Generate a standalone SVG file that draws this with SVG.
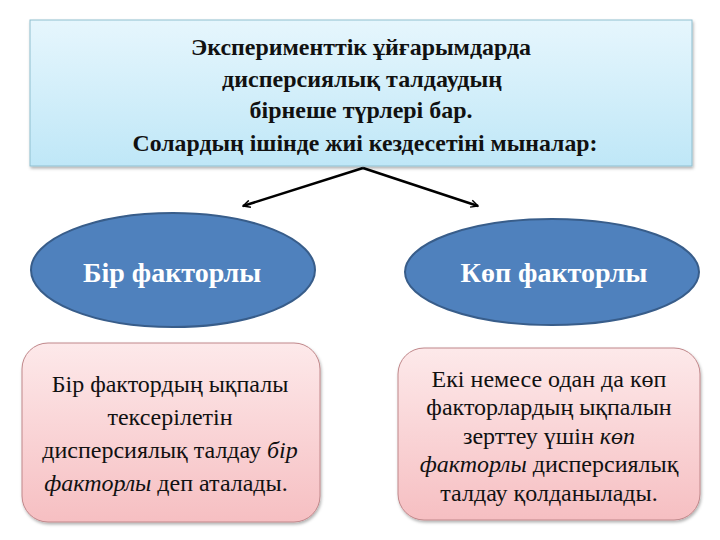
<svg xmlns="http://www.w3.org/2000/svg" width="720" height="540" viewBox="0 0 720 540">
<defs>
  <linearGradient id="gBlue" x1="0" y1="0" x2="0" y2="1">
    <stop offset="0" stop-color="#e6f6fd"/>
    <stop offset="1" stop-color="#bfe7f7"/>
  </linearGradient>
  <linearGradient id="gPink" x1="0" y1="0" x2="0" y2="1">
    <stop offset="0" stop-color="#fde9ea"/>
    <stop offset="1" stop-color="#f6bfc2"/>
  </linearGradient>
  <filter id="sh" x="-10%" y="-10%" width="120%" height="125%">
    <feDropShadow dx="1" dy="2" stdDeviation="1.5" flood-color="#000" flood-opacity="0.3"/>
  </filter>
  <marker id="arr" viewBox="0 0 10 10" refX="9" refY="5" markerWidth="9" markerHeight="9" orient="auto" markerUnits="userSpaceOnUse">
    <path d="M1,1 L9,5 L1,9" fill="none" stroke="#000" stroke-width="1.6"/>
  </marker>
</defs>
<style>
  .title{font-family:"Liberation Serif","DejaVu Serif",serif;font-weight:bold;font-size:23px;fill:#111;text-anchor:middle}
  .oval{fill:#4f81bd;stroke:#385d8a;stroke-width:2}
  .ovt{font-family:"Liberation Serif","DejaVu Serif",serif;font-weight:bold;font-size:28px;fill:#fff;text-anchor:middle}
  .pink{fill:url(#gPink);stroke:#c0878a;stroke-width:1}
  .pt{font-family:"Liberation Serif","DejaVu Serif",serif;font-size:24px;fill:#111;text-anchor:middle}
  .it{font-style:italic}
  .conn{stroke:#000;stroke-width:2.5;fill:none}
</style>
<rect width="720" height="540" fill="#fff"/>
<g id="header">
  <rect x="30" y="20" width="662" height="146" fill="url(#gBlue)" stroke="#8fbfd0" stroke-width="1" filter="url(#sh)"/>
  <text class="title" x="361" y="55" textLength="340" lengthAdjust="spacingAndGlyphs">Эксперименттік ұйғарымдарда</text>
  <text class="title" x="362" y="87" textLength="280" lengthAdjust="spacingAndGlyphs">дисперсиялық талдаудың</text>
  <text class="title" x="361" y="118" textLength="223" lengthAdjust="spacingAndGlyphs">бірнеше түрлері бар.</text>
  <text class="title" x="365" y="151" textLength="465" lengthAdjust="spacingAndGlyphs">Солардың ішінде жиі кездесетіні мыналар:</text>
</g>
<g id="connectors">
  <line class="conn" x1="363" y1="168" x2="243" y2="206" marker-end="url(#arr)"/>
  <line class="conn" x1="363" y1="168" x2="478" y2="206" marker-end="url(#arr)"/>
</g>
<g id="node-bir">
  <ellipse class="oval" cx="173" cy="270" rx="142" ry="57"/>
  <text class="ovt" x="172" y="282">Бір факторлы</text>
</g>
<g id="node-kop">
  <ellipse class="oval" cx="552" cy="272" rx="147" ry="53"/>
  <text class="ovt" x="554" y="282">Көп факторлы</text>
</g>
<g id="box-bir">
  <rect class="pink" x="22" y="343" width="298" height="179" rx="26" filter="url(#sh)"/>
  <text class="pt" x="170" y="392">Бір фактордың ықпалы</text>
  <text class="pt" x="170" y="425">тексерілетін</text>
  <text class="pt" x="170" y="458">дисперсиялық талдау <tspan class="it">бір</tspan></text>
  <text class="pt" x="166" y="491"><tspan class="it">факторлы</tspan>  деп аталады.</text>
</g>
<g id="box-kop">
  <rect class="pink" x="398" y="348" width="302" height="172" rx="26" filter="url(#sh)"/>
  <text class="pt" x="549" y="387">Екі немесе одан да көп</text>
  <text class="pt" x="549" y="415">факторлардың ықпалын</text>
  <text class="pt" x="549" y="444">зерттеу үшін <tspan class="it">көп</tspan></text>
  <text class="pt" x="549" y="472"><tspan class="it">факторлы</tspan> дисперсиялық</text>
  <text class="pt" x="549" y="501">талдау қолданылады.</text>
</g>
</svg>
